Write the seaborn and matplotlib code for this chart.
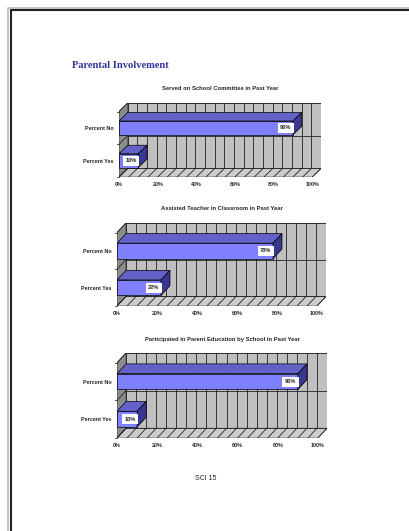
import matplotlib
matplotlib.use('Agg')
import matplotlib.pyplot as plt
import matplotlib.colors as mcolors
import seaborn as sns
from matplotlib.patches import Polygon
from matplotlib.lines import Line2D

# --- DADOS ---
CATEGORIAS = ['Percent No', 'Percent Yes']
TITULOS = [
    'Served on School Committee in Past Year',
    'Assisted Teacher in Classroom in Past Year',
    'Participated in Parent Education by School in Past Year',
]
VALORES_COMITE = [90, 10]
VALORES_PROFESSOR = [78, 22]
VALORES_EDUCACAO = [90, 10]
TICKS_X = [0, 20, 40, 60, 80, 100]
ROTULOS_X = ['0%', '20%', '40%', '60%', '80%', '100%']

# --- ESTILO ---
W, H = 409, 531
DX, DY = 4.5, 0.26          # profundidade do efeito 3D (unidades de dados)
COR_FRENTE = '#8080ff'
COR_TOPO = '#6262c8'
COR_LADO = '#383890'
COR_PAREDE = '#c0c0c0'
COR_LATERAL = '#8c8c8c'
# caixas dos graficos em pixels: esquerda, topo, direita, base
CAIXAS = [(119, 103, 321, 177), (117, 223, 326, 306), (117, 353, 327, 438)]

sns.set_theme(style='white')
plt.rcParams['font.family'] = ['Liberation Sans', 'DejaVu Sans']

fig = plt.figure(figsize=(W / 100, H / 100), dpi=100)
fig.patch.set_facecolor('white')


def desenhar_3d(ax, valores, titulo):
    n = len(CATEGORIAS)
    y_top, y_bot = -0.5, n - 0.5
    lw = 0.5
    # parede de fundo
    ax.add_patch(Polygon([(DX, y_top - DY), (100 + DX, y_top - DY),
                          (100 + DX, y_bot - DY), (DX, y_bot - DY)],
                         facecolor=COR_PAREDE, edgecolor='#555555', lw=lw, zorder=0))
    # parede lateral
    ax.add_patch(Polygon([(0, y_top), (DX, y_top - DY), (DX, y_bot - DY), (0, y_bot)],
                         facecolor=COR_LATERAL, edgecolor='#333333', lw=lw, zorder=0))
    # piso
    ax.add_patch(Polygon([(0, y_bot), (100, y_bot), (100 + DX, y_bot - DY), (DX, y_bot - DY)],
                         facecolor='#cccccc', edgecolor='#555555', lw=lw, zorder=0))
    # grades a cada 5%
    for g in range(0, 101, 5):
        ax.plot([g + DX, g + DX], [y_top - DY, y_bot - DY], color='#222222', lw=0.6, zorder=0.5)
        ax.plot([g, g + DX], [y_bot, y_bot - DY], color='#222222', lw=0.6, zorder=0.5)
    for b in range(n + 1):
        yb = b - 0.5
        ax.plot([DX, 100 + DX], [yb - DY, yb - DY], color='#222222', lw=0.6, zorder=0.5)
        ax.plot([0, DX], [yb, yb - DY], color='#222222', lw=0.6, zorder=0.5)
        ax.plot([-1.2, 0], [yb, yb], color='#222222', lw=0.6, zorder=0.5, clip_on=False)

    # barras (face frontal) pelo seaborn
    sns.barplot(x=valores, y=CATEGORIAS, orient='h', color=COR_FRENTE, saturation=1,
                width=0.42, edgecolor='black', linewidth=0.5, ax=ax)
    frente = mcolors.to_rgb(COR_FRENTE)
    barras = [p for p in ax.patches if mcolors.to_rgb(p.get_facecolor()) == frente]
    for p, v in zip(barras, valores):
        p.set_zorder(2)
        x0, x1 = p.get_x(), p.get_x() + p.get_width()
        y0, y1 = p.get_y(), p.get_y() + p.get_height()
        ax.add_patch(Polygon([(x0, y0), (x1, y0), (x1 + DX, y0 - DY), (x0 + DX, y0 - DY)],
                             facecolor=COR_TOPO, edgecolor='black', lw=0.5, zorder=2))
        ax.add_patch(Polygon([(x1, y0), (x1 + DX, y0 - DY), (x1 + DX, y1 - DY), (x1, y1)],
                             facecolor=COR_LADO, edgecolor='black', lw=0.5, zorder=2))
        ax.text(x1 - 0.8, (y0 + y1) / 2, f'{v}%', ha='right', va='center',
                fontsize=4.1, weight='bold', zorder=3,
                bbox=dict(facecolor='white', edgecolor='none', pad=1.8))

    ax.set_xlim(0, 100 + DX)
    ax.set_ylim(y_bot, y_top - DY)
    ax.set_xticks(TICKS_X)
    ax.set_xticklabels(ROTULOS_X, fontsize=3.9, weight='bold')
    ax.set_yticks(range(n))
    ax.set_yticklabels(CATEGORIAS, fontsize=3.9, weight='bold')
    ax.tick_params(length=0, pad=3.5)
    ax.tick_params(axis='y', pad=4)
    ax.set_xlabel('')
    ax.set_ylabel('')
    for s in ax.spines.values():
        s.set_visible(False)
    ax.patch.set_alpha(0)
    ax.set_title(titulo, fontsize=4.2, weight='bold', pad=9)


for (l, t, r, b), valores, titulo in zip(CAIXAS,
                                         [VALORES_COMITE, VALORES_PROFESSOR, VALORES_EDUCACAO],
                                         TITULOS):
    ax = fig.add_axes([l / W, 1 - b / H, (r - l) / W, (b - t) / H])
    desenhar_3d(ax, valores, titulo)

# titulo da pagina
fig.text(72 / W, 1 - 66 / H, 'Parental Involvement', fontsize=7.6, weight='bold',
         color='#333399', family=['Liberation Serif', 'DejaVu Serif'], va='center')
fig.text(206 / W, 1 - 478 / H, 'SCI 15', fontsize=5, ha='center', va='center')

# borda da pagina
fig.add_artist(Line2D([9 / W, 1], [1 - 8 / H, 1 - 8 / H], color='#bbbbbb', lw=1.2))
fig.add_artist(Line2D([8 / W, 8 / W], [0, 1 - 8 / H], color='#bbbbbb', lw=1.2))
fig.add_artist(Line2D([10.5 / W, 1], [1 - 10 / H, 1 - 10 / H], color='#222222', lw=1.5))
fig.add_artist(Line2D([10.5 / W, 10.5 / W], [0, 1 - 10 / H], color='#222222', lw=1.5))

fig.savefig('out.png', dpi=100)
